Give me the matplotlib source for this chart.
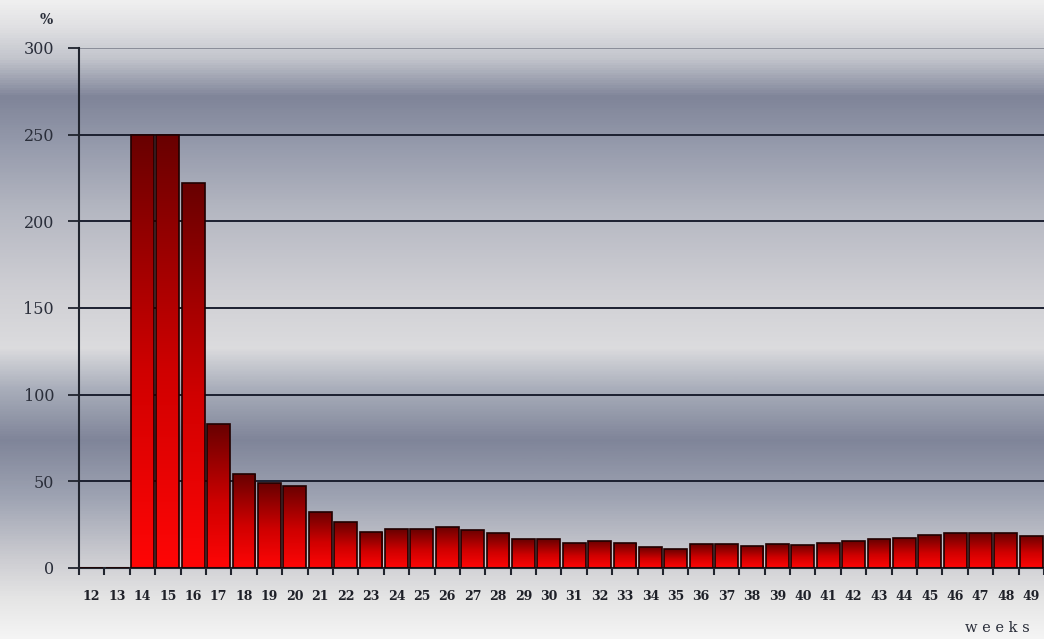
import numpy as np
import matplotlib
matplotlib.use("Agg")
import matplotlib.pyplot as plt
from matplotlib.colors import LinearSegmentedColormap

# weekly percentages
weeks = [str(w) for w in range(12, 50)]
values = [0, 0, 250, 250, 222, 83, 54, 49, 47.5, 32.5, 26.5, 21, 22.5, 22.5,
          23.7, 22, 20, 16.5, 16.5, 14.6, 15.8, 14.6, 12, 10.8, 13.7, 13.7,
          12.7, 13.7, 13.3, 14.6, 15.8, 16.5, 17.5, 19, 20, 20, 20, 18.5]
yticks = [0, 50, 100, 150, 200, 250, 300]

# vertical background shading (position from top of figure, grey level)
bg_stops = [
    (0.00, (0.94, 0.94, 0.94)),
    (0.04, (0.88, 0.88, 0.89)),
    (0.09, (0.76, 0.77, 0.80)),
    (0.15, (0.50, 0.52, 0.60)),
    (0.22, (0.58, 0.60, 0.67)),
    (0.33, (0.71, 0.72, 0.76)),
    (0.45, (0.81, 0.81, 0.83)),
    (0.545, (0.86, 0.86, 0.87)),
    (0.61, (0.66, 0.68, 0.73)),
    (0.69, (0.50, 0.52, 0.60)),
    (0.78, (0.62, 0.64, 0.70)),
    (0.875, (0.80, 0.80, 0.82)),
    (0.94, (0.90, 0.90, 0.90)),
    (1.00, (0.96, 0.96, 0.96)),
]
bg_cmap = LinearSegmentedColormap.from_list("bg", bg_stops)
bar_cmap = LinearSegmentedColormap.from_list(
    "bar", [(0.0, "#ff0606"), (0.45, "#d00000"), (1.0, "#680000")])

fig = plt.figure(figsize=(10.44, 6.39), dpi=100)

bg = fig.add_axes([0, 0, 1, 1], zorder=0)
grad = np.linspace(0, 1, 640).reshape(-1, 1)
bg.imshow(grad, cmap=bg_cmap, aspect="auto", extent=[0, 1, 0, 1], origin="upper")
bg.set_axis_off()

ax = fig.add_axes([79 / 1044, 1 - 568 / 639, 1 - 79 / 1044, (568 - 48) / 639], zorder=1)
ax.patch.set_alpha(0)

x = np.arange(len(weeks))
width = 0.9

ax.set_yticks(yticks)
ax.grid(axis="y", color="#1c2030", lw=1.4, zorder=1)
ax.set_axisbelow(True)
ax.get_ygridlines()[-1].set_color("#8a8d98")

bars = ax.bar(x, values, width=width, facecolor="none", edgecolor="#200000",
              lw=1.2, zorder=3)
vgrad = np.linspace(0, 1, 256).reshape(-1, 1)
for xi, v, b in zip(x, values, bars):
    if v <= 0:
        continue
    im = ax.imshow(vgrad, cmap=bar_cmap, aspect="auto", origin="lower",
                   extent=[xi - width / 2, xi + width / 2, 0, v], zorder=2)
    im.set_clip_path(b)
ax.set_xlim(-0.5, len(weeks) - 0.5)
ax.set_ylim(0, 300)

# ticks sit at category boundaries, labels in between
ax.set_xticks(np.arange(len(weeks) + 1) - 0.5)
ax.set_xticklabels([])
ax.set_xticks(x, minor=True)
ax.set_xticklabels(weeks, minor=True, family="DejaVu Serif", fontweight="bold")
ax.tick_params(axis="x", which="major", length=5, width=1.5, color="#20242e", direction="out")
ax.tick_params(axis="x", which="minor", length=0, pad=16, labelsize=9,
               labelcolor="#1e2028")
ax.tick_params(axis="y", length=8, width=1.3, color="#20242e", pad=10,
               labelsize=11.5, labelcolor="#2a2e3a")
for lbl in ax.get_yticklabels():
    lbl.set_family("DejaVu Serif")

for side in ("top", "right"):
    ax.spines[side].set_visible(False)
ax.spines["left"].set_color("#20242e")
ax.spines["left"].set_linewidth(1.5)
ax.spines["bottom"].set_color("#20242e")
ax.spines["bottom"].set_linewidth(1.5)

fig.text(46 / 1044, 1 - 20 / 639, "%", ha="center", va="center",
         fontsize=10, family="DejaVu Serif", fontweight="bold", color="#2a2e3a")
fig.text(1030 / 1044, 1 - 628 / 639, "w e e k s", ha="right", va="center",
         fontsize=10.5, family="DejaVu Serif", color="#2a2e3a")

fig.savefig("out.png", dpi=100)
